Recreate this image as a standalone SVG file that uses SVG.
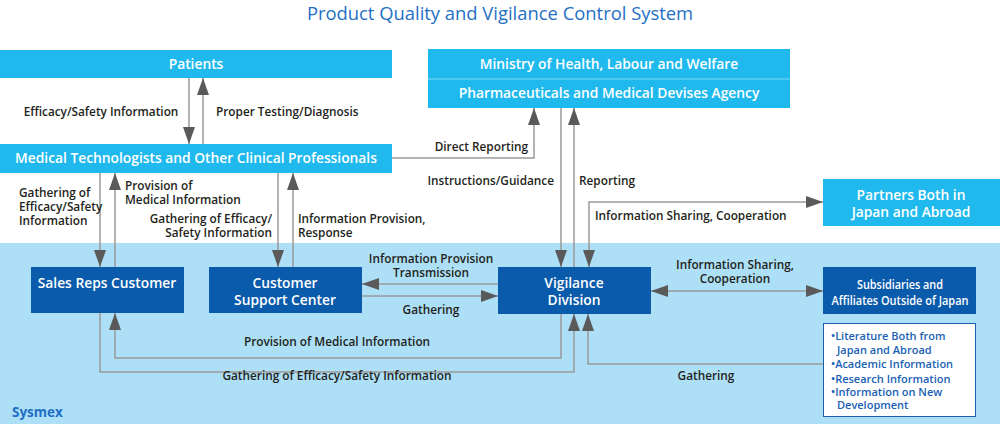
<svg xmlns="http://www.w3.org/2000/svg" width="1000" height="424" viewBox="0 0 1000 424">
<style>
.t{font-family:"Open Sans","Liberation Sans",sans-serif;}
.title{font-size:18.4px;fill:#1f6fc4;}
.nw{font-size:13.8px;font-weight:600;fill:#ffffff;}
.lb{font-size:11.8px;font-weight:600;fill:#231f20;}
.bl{font-size:11px;font-weight:600;fill:#1a5fb4;}
.cyan{fill:#1fb9ee;}
.dark{fill:#0a5bab;}
.ln{fill:none;stroke:#9a9a9a;stroke-width:1.5;}
</style>
<defs>
<marker id="ah" markerUnits="userSpaceOnUse" markerWidth="17" markerHeight="12" refX="17" refY="6" orient="auto-start-reverse" viewBox="0 0 17 12">
<path d="M0,0 L17,6 L0,12 z" fill="#5a5a5a"/>
</marker>
</defs>
<rect x="0" y="243" width="1000" height="181" fill="#addff6"/>
<text class="t title" x="500" y="20" text-anchor="middle">Product Quality and Vigilance Control System</text>

<g id="connectors">
<path class="ln" d="M189,78 V144" marker-end="url(#ah)"/>
<path class="ln" d="M203,144 V78" marker-end="url(#ah)"/>
<path class="ln" d="M392,158 H534 V108" marker-end="url(#ah)"/>
<path class="ln" d="M561,108 V267" marker-end="url(#ah)"/>
<path class="ln" d="M574,267 V108" marker-end="url(#ah)"/>
<path class="ln" d="M589,267 V202 H823" marker-start="url(#ah)" marker-end="url(#ah)"/>
<path class="ln" d="M100,173 V267" marker-end="url(#ah)"/>
<path class="ln" d="M115,267 V173" marker-end="url(#ah)"/>
<path class="ln" d="M278,173 V267" marker-end="url(#ah)"/>
<path class="ln" d="M293,267 V173" marker-end="url(#ah)"/>
<path class="ln" d="M498,284 H362" marker-end="url(#ah)"/>
<path class="ln" d="M362,296 H498" marker-end="url(#ah)"/>
<path class="ln" d="M651,291 H823" marker-start="url(#ah)" marker-end="url(#ah)"/>
<path class="ln" d="M561,314 V358 H115 V313" marker-end="url(#ah)"/>
<path class="ln" d="M100,313 V372 H574 V314" marker-end="url(#ah)"/>
<path class="ln" d="M823,364 H588 V314" marker-end="url(#ah)"/>
<g class="t lb">
<text x="101" y="116" text-anchor="middle">Efficacy/Safety Information</text>
<text x="216" y="116">Proper Testing/Diagnosis</text>
<text x="528" y="151" text-anchor="end">Direct Reporting</text>
<text x="554" y="185" text-anchor="end">Instructions/Guidance</text>
<text x="579" y="185">Reporting</text>
<text x="595" y="220">Information Sharing, Cooperation</text>
<text x="19" y="197">Gathering of<tspan x="19" dy="14">Efficacy/Safety</tspan><tspan x="19" dy="14">Information</tspan></text>
<text x="125" y="190">Provision of<tspan x="125" dy="14">Medical Information</tspan></text>
<text x="272" y="223" text-anchor="end">Gathering of Efficacy/<tspan x="272" dy="14">Safety Information</tspan></text>
<text x="298" y="223">Information Provision,<tspan x="298" dy="14">Response</tspan></text>
<text x="431" y="263" text-anchor="middle">Information Provision<tspan x="431" dy="14">Transmission</tspan></text>
<text x="431" y="314" text-anchor="middle">Gathering</text>
<text x="735" y="269" text-anchor="middle">Information Sharing,<tspan x="735" dy="14">Cooperation</tspan></text>
<text x="337" y="346" text-anchor="middle">Provision of Medical Information</text>
<text x="337" y="380" text-anchor="middle">Gathering of Efficacy/Safety Information</text>
<text x="706" y="380" text-anchor="middle">Gathering</text>
</g>
</g>

<g id="patients">
<rect class="cyan" x="0" y="50" width="392" height="28"/>
<text class="t nw" x="196" y="69" text-anchor="middle">Patients</text>
</g>
<g id="medical">
<rect class="cyan" x="0" y="144" width="392" height="29"/>
<text class="t nw" x="196" y="163" text-anchor="middle">Medical Technologists and Other Clinical Professionals</text>
</g>
<g id="ministry">
<rect class="cyan" x="428" y="49" width="362" height="59"/>
<line x1="428" y1="79" x2="790" y2="79" stroke="#7fd5f5" stroke-width="1"/>
<text class="t nw" x="609" y="69" text-anchor="middle">Ministry of Health, Labour and Welfare</text>
<text class="t nw" x="609" y="98" text-anchor="middle">Pharmaceuticals and Medical Devises Agency</text>
</g>
<g id="partners">
<rect class="cyan" x="823" y="179" width="177" height="47"/>
<text class="t nw" x="911" y="200" text-anchor="middle">Partners Both in<tspan x="911" dy="17">Japan and Abroad</tspan></text>
</g>
<g id="sales">
<rect class="dark" x="31" y="267" width="153" height="46"/>
<text class="t nw" x="107" y="288" text-anchor="middle">Sales Reps Customer</text>
</g>
<g id="csc">
<rect class="dark" x="209" y="267" width="153" height="46"/>
<text class="t nw" x="285" y="288" text-anchor="middle">Customer<tspan x="285" dy="17">Support Center</tspan></text>
</g>
<g id="vigilance">
<rect class="dark" x="498" y="267" width="153" height="47"/>
<text class="t nw" x="574" y="288" text-anchor="middle">Vigilance<tspan x="574" dy="17">Division</tspan></text>
</g>
<g id="subsidiaries">
<rect class="dark" x="823" y="267" width="153" height="47"/>
<text class="t nw" x="900" y="288.5" text-anchor="middle" style="font-size:12.8px" textLength="86" lengthAdjust="spacingAndGlyphs">Subsidiaries and</text>
<text class="t nw" x="900" y="305" text-anchor="middle" style="font-size:12.8px" textLength="137" lengthAdjust="spacingAndGlyphs">Affiliates Outside of Japan</text>
</g>
<g id="literature">
<rect x="823.5" y="323.5" width="152" height="93" fill="#ffffff" stroke="#1a5fb4" stroke-width="1"/>
<text class="t bl" x="831" y="340">•Literature Both from<tspan x="837" dy="13.5">Japan and Abroad</tspan><tspan x="831" dy="14">•Academic Information</tspan><tspan x="831" dy="15">•Research Information</tspan><tspan x="831" dy="13.5">•Information on New</tspan><tspan x="837" dy="13">Development</tspan></text>
</g>
<text class="t" x="12" y="417" style="font-size:13.5px;font-weight:bold;fill:#1f6fc4">Sysmex</text>
</svg>
